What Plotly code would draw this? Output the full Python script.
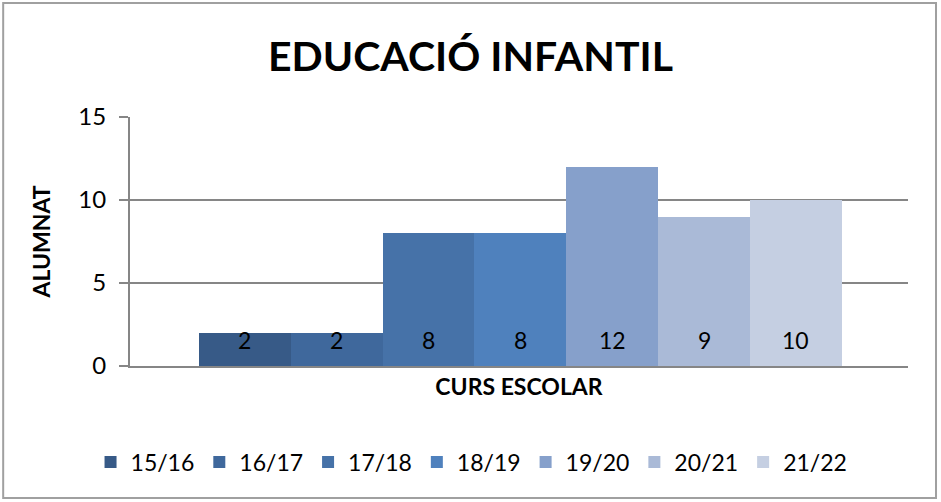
import plotly.graph_objects as go

seasons = ["15/16", "16/17", "17/18", "18/19", "19/20", "20/21", "21/22"]
alumnat = [2, 2, 8, 8, 12, 9, 10]
colors = ["#375A87", "#3F689C", "#4672A8", "#4F81BD", "#86A0CB", "#AABAD7", "#C5CFE2"]

FONT = "Lato, sans-serif"

fig = go.Figure()
for i, (s, v, c) in enumerate(zip(seasons, alumnat, colors)):
    fig.add_trace(go.Bar(x=[i], y=[v], name=s, width=1, marker=dict(color=c, line=dict(width=0)),
                         hoverinfo="name+y"))
    fig.add_annotation(x=i, y=0, text=str(v), showarrow=False, yanchor="bottom", yshift=10,
                       font=dict(family=FONT, size=23, color="black"))

fig.update_layout(
    width=941, height=502,
    paper_bgcolor="white", plot_bgcolor="white",
    margin=dict(l=130, r=33, t=117, b=136, autoexpand=False),
    title=dict(text="<b>EDUCACIÓ INFANTIL</b>", x=0.5, xanchor="center", y=0.888, yanchor="middle",
               font=dict(family=FONT, size=41, color="black")),
    showlegend=True,
    legend=dict(orientation="h", x=0.439, xanchor="center", y=-0.386, yanchor="middle",
                font=dict(family=FONT, size=23, color="black"), itemwidth=30,
                traceorder="normal", tracegroupgap=0),
    bargap=0,
)
fig.update_xaxes(range=[-1.25, 7.22], showticklabels=False, showgrid=False, zeroline=False,
                 showline=True, linecolor="#868686", linewidth=2, ticks="", automargin=False,
                 title=dict(text="<b>CURS ESCOLAR</b>", standoff=12,
                            font=dict(family=FONT, size=23, color="black")),
                 fixedrange=True)
fig.update_yaxes(range=[0, 15], tickvals=[0, 5, 10, 15], showgrid=True, gridcolor="#868686", gridwidth=2,
                 zeroline=False, showline=True, linecolor="#868686", linewidth=2,
                 ticks="outside", ticklen=9, tickcolor="#868686", tickwidth=2, automargin=False,
                 ticklabelstandoff=8,
                 tickfont=dict(family=FONT, size=24, color="black"),
                 title=dict(text="<b>ALUMNAT</b>", standoff=21,
                            font=dict(family=FONT, size=23, color="black")),
                 fixedrange=True)
fig.add_shape(type="rect", xref="paper", yref="paper", x0=-0.163, x1=1.036, y0=-0.530, y1=1.458,
              line=dict(color="#A0A0A0", width=2), layer="below")
fig.write_html("out.html", config={"displayModeBar": False},
               post_script="document.body.style.margin='0';document.body.style.overflow='hidden';")
